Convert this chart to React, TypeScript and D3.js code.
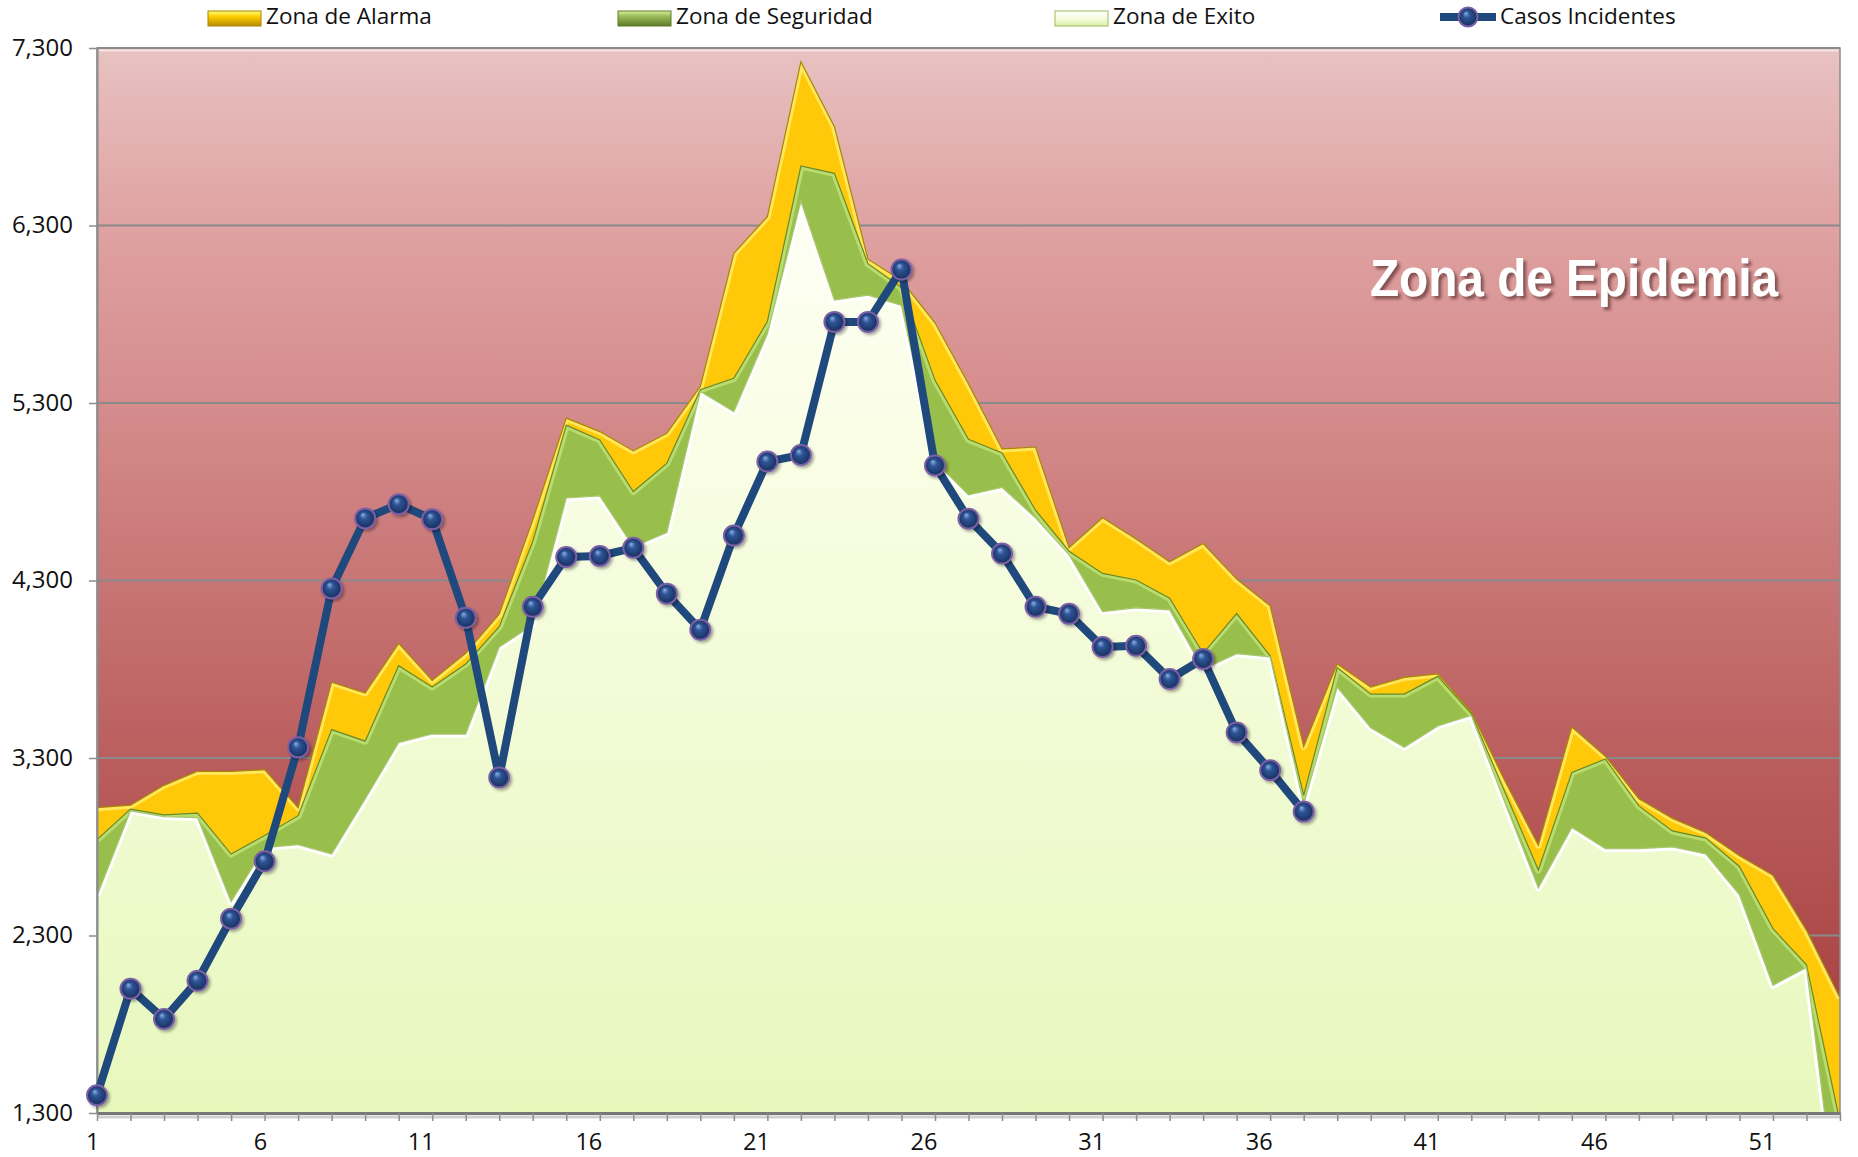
import React, { useEffect, useRef } from 'react'
import * as d3 from 'd3'

// semanas epidemiologicas 1..53
const semanas = d3.range(1, 54)
const etiquetasX = ['1', '6', '11', '16', '21', '26', '31', '36', '41', '46', '51']
const ticksY = [1300, 2300, 3300, 4300, 5300, 6300, 7300]

// limites superiores de cada zona (canal endemico)
const alarma = [
  3020, 3034, 3146, 3225, 3224, 3234, 3020, 3727, 3666, 3946, 3737, 3890, 4110, 4640, 5215, 5139, 5030, 5130,
  5393, 6143, 6350, 7223, 6857, 6110, 5990, 5752, 5407, 5041, 5052, 4485, 4653, 4534, 4405, 4508, 4308, 4157,
  3365, 3830, 3700, 3754, 3774, 3560, 3172, 2809, 3474, 3310, 3070, 2960, 2879, 2749, 2639, 2329, 1948
]
const seguridad = [
  2840, 3012, 2980, 2989, 2759, 2863, 2975, 3460, 3395, 3820, 3700, 3830, 4040, 4520, 5175, 5092, 4801, 4960,
  5375, 5439, 5760, 6635, 6594, 6085, 5950, 5429, 5095, 5019, 4696, 4465, 4340, 4303, 4200, 3890, 4114, 3876,
  3090, 3810, 3660, 3660, 3760, 3550, 3110, 2669, 3219, 3294, 3030, 2889, 2849, 2689, 2339, 2135, 1250
]
const exito = [
  2524, 3002, 2970, 2964, 2490, 2795, 2812, 2759, 3069, 3387, 3435, 3435, 3925, 4050, 4765, 4777, 4490, 4570,
  5365, 5251, 5690, 6436, 5880, 5908, 5850, 4970, 4782, 4825, 4653, 4445, 4125, 4146, 4135, 3800, 3888, 3870,
  3040, 3700, 3470, 3360, 3480, 3540, 3050, 2569, 2909, 2789, 2789, 2799, 2759, 2529, 2019, 2120, 600
]
// casos observados (semanas 1..37)
const casos = [
  1400, 2000, 1830, 2045, 2395, 2718, 3360, 4255, 4650, 4730, 4645, 4090, 3190, 4152, 4432, 4438, 4484, 4226,
  4022, 4553, 4970, 5007, 5757, 5757, 6052, 4948, 4648, 4452, 4152, 4112, 3925, 3932, 3745, 3858, 3444, 3231, 2998
]

const nombres = ['Zona de Alarma', 'Zona de Seguridad', 'Zona de Exito', 'Casos Incidentes']

function addStops(grad: any, stops: [number, string][]) {
  stops.forEach(function (s) {
    grad.append('stop').attr('offset', s[0]).attr('stop-color', s[1])
  })
}

export default function App() {
  const ref = useRef<SVGSVGElement>(null)

  useEffect(() => {
    document.body.style.margin = '0'
    const svg = d3.select(ref.current)
    svg.selectAll('*').remove()

    const left = 97,
      right = 1840,
      top = 48,
      bottom = 1113
    const font = '"Open Sans", "Liberation Sans", sans-serif'

    const x = d3.scalePoint<number>().domain(semanas).range([left, right])
    const y = d3.scaleLinear().domain([1300, 7300]).range([bottom, top])

    const defs = svg.append('defs')

    var bg = defs.append('linearGradient').attr('id', 'bgGrad').attr('x1', 0).attr('y1', 0).attr('x2', 0).attr('y2', 1)
    addStops(bg, [
      [0, '#e8c2c2'],
      [0.17, '#dfa1a1'],
      [0.35, '#d48a8a'],
      [0.67, '#ba5d5d'],
      [0.88, '#ab4646'],
      [1, '#a43b3b']
    ])

    var exGrad = defs
      .append('linearGradient')
      .attr('id', 'exGrad')
      .attr('gradientUnits', 'userSpaceOnUse')
      .attr('x1', 0)
      .attr('y1', top)
      .attr('x2', 0)
      .attr('y2', bottom)
    addStops(exGrad, [
      [0, '#ffffff'],
      [0.3, '#fbfeea'],
      [1, '#e7f8bd']
    ])

    var yelGrad = defs.append('linearGradient').attr('id', 'yelGrad').attr('x1', 0).attr('y1', 0).attr('x2', 0).attr('y2', 1)
    addStops(yelGrad, [
      [0, '#ffff80'],
      [0.35, '#ffd000'],
      [1, '#b88a00']
    ])
    var grnGrad = defs.append('linearGradient').attr('id', 'grnGrad').attr('x1', 0).attr('y1', 0).attr('x2', 0).attr('y2', 1)
    addStops(grnGrad, [
      [0, '#d8f0a0'],
      [0.35, '#9bbb59'],
      [1, '#5f7a2a']
    ])
    var whtGrad = defs.append('linearGradient').attr('id', 'whtGrad').attr('x1', 0).attr('y1', 0).attr('x2', 0).attr('y2', 1)
    addStops(whtGrad, [
      [0, '#ffffff'],
      [0.5, '#f6fde0'],
      [1, '#d9efa8']
    ])

    var mk = defs
      .append('radialGradient')
      .attr('id', 'mkGrad')
      .attr('cx', 0.5)
      .attr('cy', 0.5)
      .attr('r', 0.5)
      .attr('fx', 0.38)
      .attr('fy', 0.3)
    addStops(mk, [
      [0, '#8fb0e6'],
      [0.35, '#2f5597'],
      [1, '#172f5c']
    ])

    var sh = defs.append('filter').attr('id', 'shadow').attr('x', '-50%').attr('y', '-50%').attr('width', '200%').attr('height', '200%')
    sh.append('feDropShadow').attr('dx', 2).attr('dy', 2).attr('stdDeviation', 1.5).attr('flood-color', '#000').attr('flood-opacity', 0.35)

    var tsh = defs.append('filter').attr('id', 'txtShadow').attr('x', '-10%').attr('y', '-30%').attr('width', '120%').attr('height', '160%')
    tsh.append('feDropShadow').attr('dx', 3).attr('dy', 3).attr('stdDeviation', 1.5).attr('flood-color', '#4a1c1c').attr('flood-opacity', 0.6)

    defs
      .append('clipPath')
      .attr('id', 'plotClip')
      .append('rect')
      .attr('x', left)
      .attr('y', top)
      .attr('width', right - left)
      .attr('height', bottom - top)

    // fondo: zona de epidemia
    svg
      .append('rect')
      .attr('x', left)
      .attr('y', top)
      .attr('width', right - left)
      .attr('height', bottom - top)
      .attr('fill', 'url(#bgGrad)')

    svg
      .append('g')
      .selectAll('line')
      .data(ticksY.slice(1))
      .enter()
      .append('line')
      .attr('x1', left)
      .attr('x2', right)
      .attr('y1', (d) => y(d))
      .attr('y2', (d) => y(d))
      .attr('stroke', '#8a8a8a')
      .attr('stroke-width', 2)

    svg
      .append('text')
      .attr('x', 1370)
      .attr('y', 296)
      .attr('textLength', 408)
      .attr('lengthAdjust', 'spacingAndGlyphs')
      .attr('font-family', '"Liberation Sans", Arial, sans-serif')
      .attr('font-weight', 'bold')
      .attr('font-size', 51)
      .attr('fill', '#ffffff')
      .attr('filter', 'url(#txtShadow)')
      .text('Zona de Epidemia')

    // zonas
    const area = d3
      .area<number>()
      .x((d, i) => x(semanas[i]) as number)
      .y0(bottom)
      .y1((d) => y(d))
    const topLine = d3
      .line<number>()
      .x((d, i) => x(semanas[i]) as number)
      .y((d) => y(d))

    const zonas = [
      { vals: alarma, fill: '#ffc90a', hi: '#ffe65a', edge: '#a88600' },
      { vals: seguridad, fill: '#98bf4b', hi: '#b9dc6c', edge: '#6a8a2a' },
      { vals: exito, fill: 'url(#exGrad)', hi: '#ffffff', edge: '#a9c56e' }
    ]

    var g = svg.append('g').attr('clip-path', 'url(#plotClip)')
    zonas.forEach(function (z, k) {
      defs
        .append('clipPath')
        .attr('id', 'zona' + k)
        .append('path')
        .attr('d', area(z.vals))
      g.append('path').attr('d', area(z.vals)).attr('fill', z.fill)
      g.append('path')
        .attr('d', topLine(z.vals))
        .attr('fill', 'none')
        .attr('stroke', z.hi)
        .attr('stroke-width', 7)
        .attr('stroke-linejoin', 'round')
        .attr('clip-path', 'url(#zona' + k + ')')
      g.append('path')
        .attr('d', topLine(z.vals))
        .attr('fill', 'none')
        .attr('stroke', z.edge)
        .attr('stroke-width', 1.2)
    })

    // bordes del area de trazado
    svg
      .append('line')
      .attr('x1', left + 2)
      .attr('x2', right - 2)
      .attr('y1', top + 2.5)
      .attr('y2', top + 2.5)
      .attr('stroke', '#ffffff')
      .attr('stroke-opacity', 0.55)
      .attr('stroke-width', 2)
    svg
      .append('rect')
      .attr('x', left)
      .attr('y', top)
      .attr('width', right - left)
      .attr('height', bottom - top)
      .attr('fill', 'none')
      .attr('stroke', '#8c8c8c')
      .attr('stroke-width', 1.5)

    // ejes
    var yAxis = svg
      .append('g')
      .attr('transform', 'translate(' + left + ',0)')
      .call(
        d3
          .axisLeft(y)
          .tickValues(ticksY)
          .tickFormat(d3.format(','))
          .tickSize(8)
          .tickSizeOuter(0)
          .tickPadding(16)
      )
    yAxis.select('.domain').attr('stroke', '#8c8c8c').attr('stroke-width', 2)
    yAxis.selectAll('.tick line').attr('stroke', '#8c8c8c').attr('stroke-width', 1.5)
    yAxis
      .selectAll('.tick text')
      .attr('font-family', font)
      .attr('font-size', 24)
      .attr('fill', '#111')
      .attr('dy', 7)

    svg
      .append('line')
      .attr('x1', left)
      .attr('x2', right)
      .attr('y1', bottom + 4)
      .attr('y2', bottom + 4)
      .attr('stroke', '#cfcfcf')
      .attr('stroke-width', 3)

    var xAxis = svg
      .append('g')
      .attr('transform', 'translate(0,' + bottom + ')')
      .call(
        d3
          .axisBottom(x)
          .tickValues(semanas)
          .tickFormat((d) => (etiquetasX.indexOf(String(d)) >= 0 ? String(d) : ''))
          .tickSize(8)
          .tickSizeOuter(0)
          .tickPadding(12)
      )
    xAxis.select('.domain').attr('stroke', '#777').attr('stroke-width', 3)
    xAxis.selectAll('.tick line').attr('stroke', '#8c8c8c').attr('stroke-width', 1.5)
    xAxis
      .selectAll('.tick text')
      .attr('font-family', font)
      .attr('font-size', 23.5)
      .attr('fill', '#111')
      .attr('text-anchor', 'end')
      .attr('x', 2)

    // casos incidentes
    const linea = d3
      .line<number>()
      .x((d, i) => x(semanas[i]) as number)
      .y((d) => y(d))
    svg
      .append('path')
      .attr('d', linea(casos))
      .attr('fill', 'none')
      .attr('stroke', '#1f497d')
      .attr('stroke-width', 8)
      .attr('stroke-linejoin', 'round')
      .attr('stroke-linecap', 'round')

    svg
      .append('g')
      .selectAll('circle')
      .data(casos)
      .enter()
      .append('circle')
      .attr('cx', (d, i) => x(semanas[i]) as number)
      .attr('cy', (d) => y(d))
      .attr('r', 10)
      .attr('fill', 'url(#mkGrad)')
      .attr('stroke', '#7a5fa6')
      .attr('stroke-width', 2)
      .attr('filter', 'url(#shadow)')

    // leyenda
    const legX = [208, 618, 1055, 1440]
    const swFill = ['url(#yelGrad)', 'url(#grnGrad)', 'url(#whtGrad)']
    const swEdge = ['#a88600', '#5f7a2a', '#9bbb59']
    var leg = svg.append('g')
    nombres.forEach(function (n, i) {
      if (i < 3) {
        leg
          .append('rect')
          .attr('x', legX[i])
          .attr('y', 11)
          .attr('width', 53)
          .attr('height', 15)
          .attr('fill', swFill[i])
          .attr('stroke', swEdge[i])
          .attr('stroke-width', 1)
        leg
          .append('text')
          .attr('x', legX[i] + 58)
          .attr('y', 24)
          .attr('font-family', font)
          .attr('font-size', 22.5)
          .attr('fill', '#111')
          .text(n)
      } else {
        leg
          .append('line')
          .attr('x1', legX[i])
          .attr('x2', legX[i] + 56)
          .attr('y1', 17)
          .attr('y2', 17)
          .attr('stroke', '#1f497d')
          .attr('stroke-width', 8)
        leg
          .append('circle')
          .attr('cx', legX[i] + 28)
          .attr('cy', 17)
          .attr('r', 9.5)
          .attr('fill', 'url(#mkGrad)')
          .attr('stroke', '#7a5fa6')
          .attr('stroke-width', 2)
        leg
          .append('text')
          .attr('x', legX[i] + 60)
          .attr('y', 24)
          .attr('font-family', font)
          .attr('font-size', 22.5)
          .attr('fill', '#111')
          .text(n)
      }
    })
  }, [])

  return <svg ref={ref} width={1858} height={1157} style={{ display: 'block' }} />
}
